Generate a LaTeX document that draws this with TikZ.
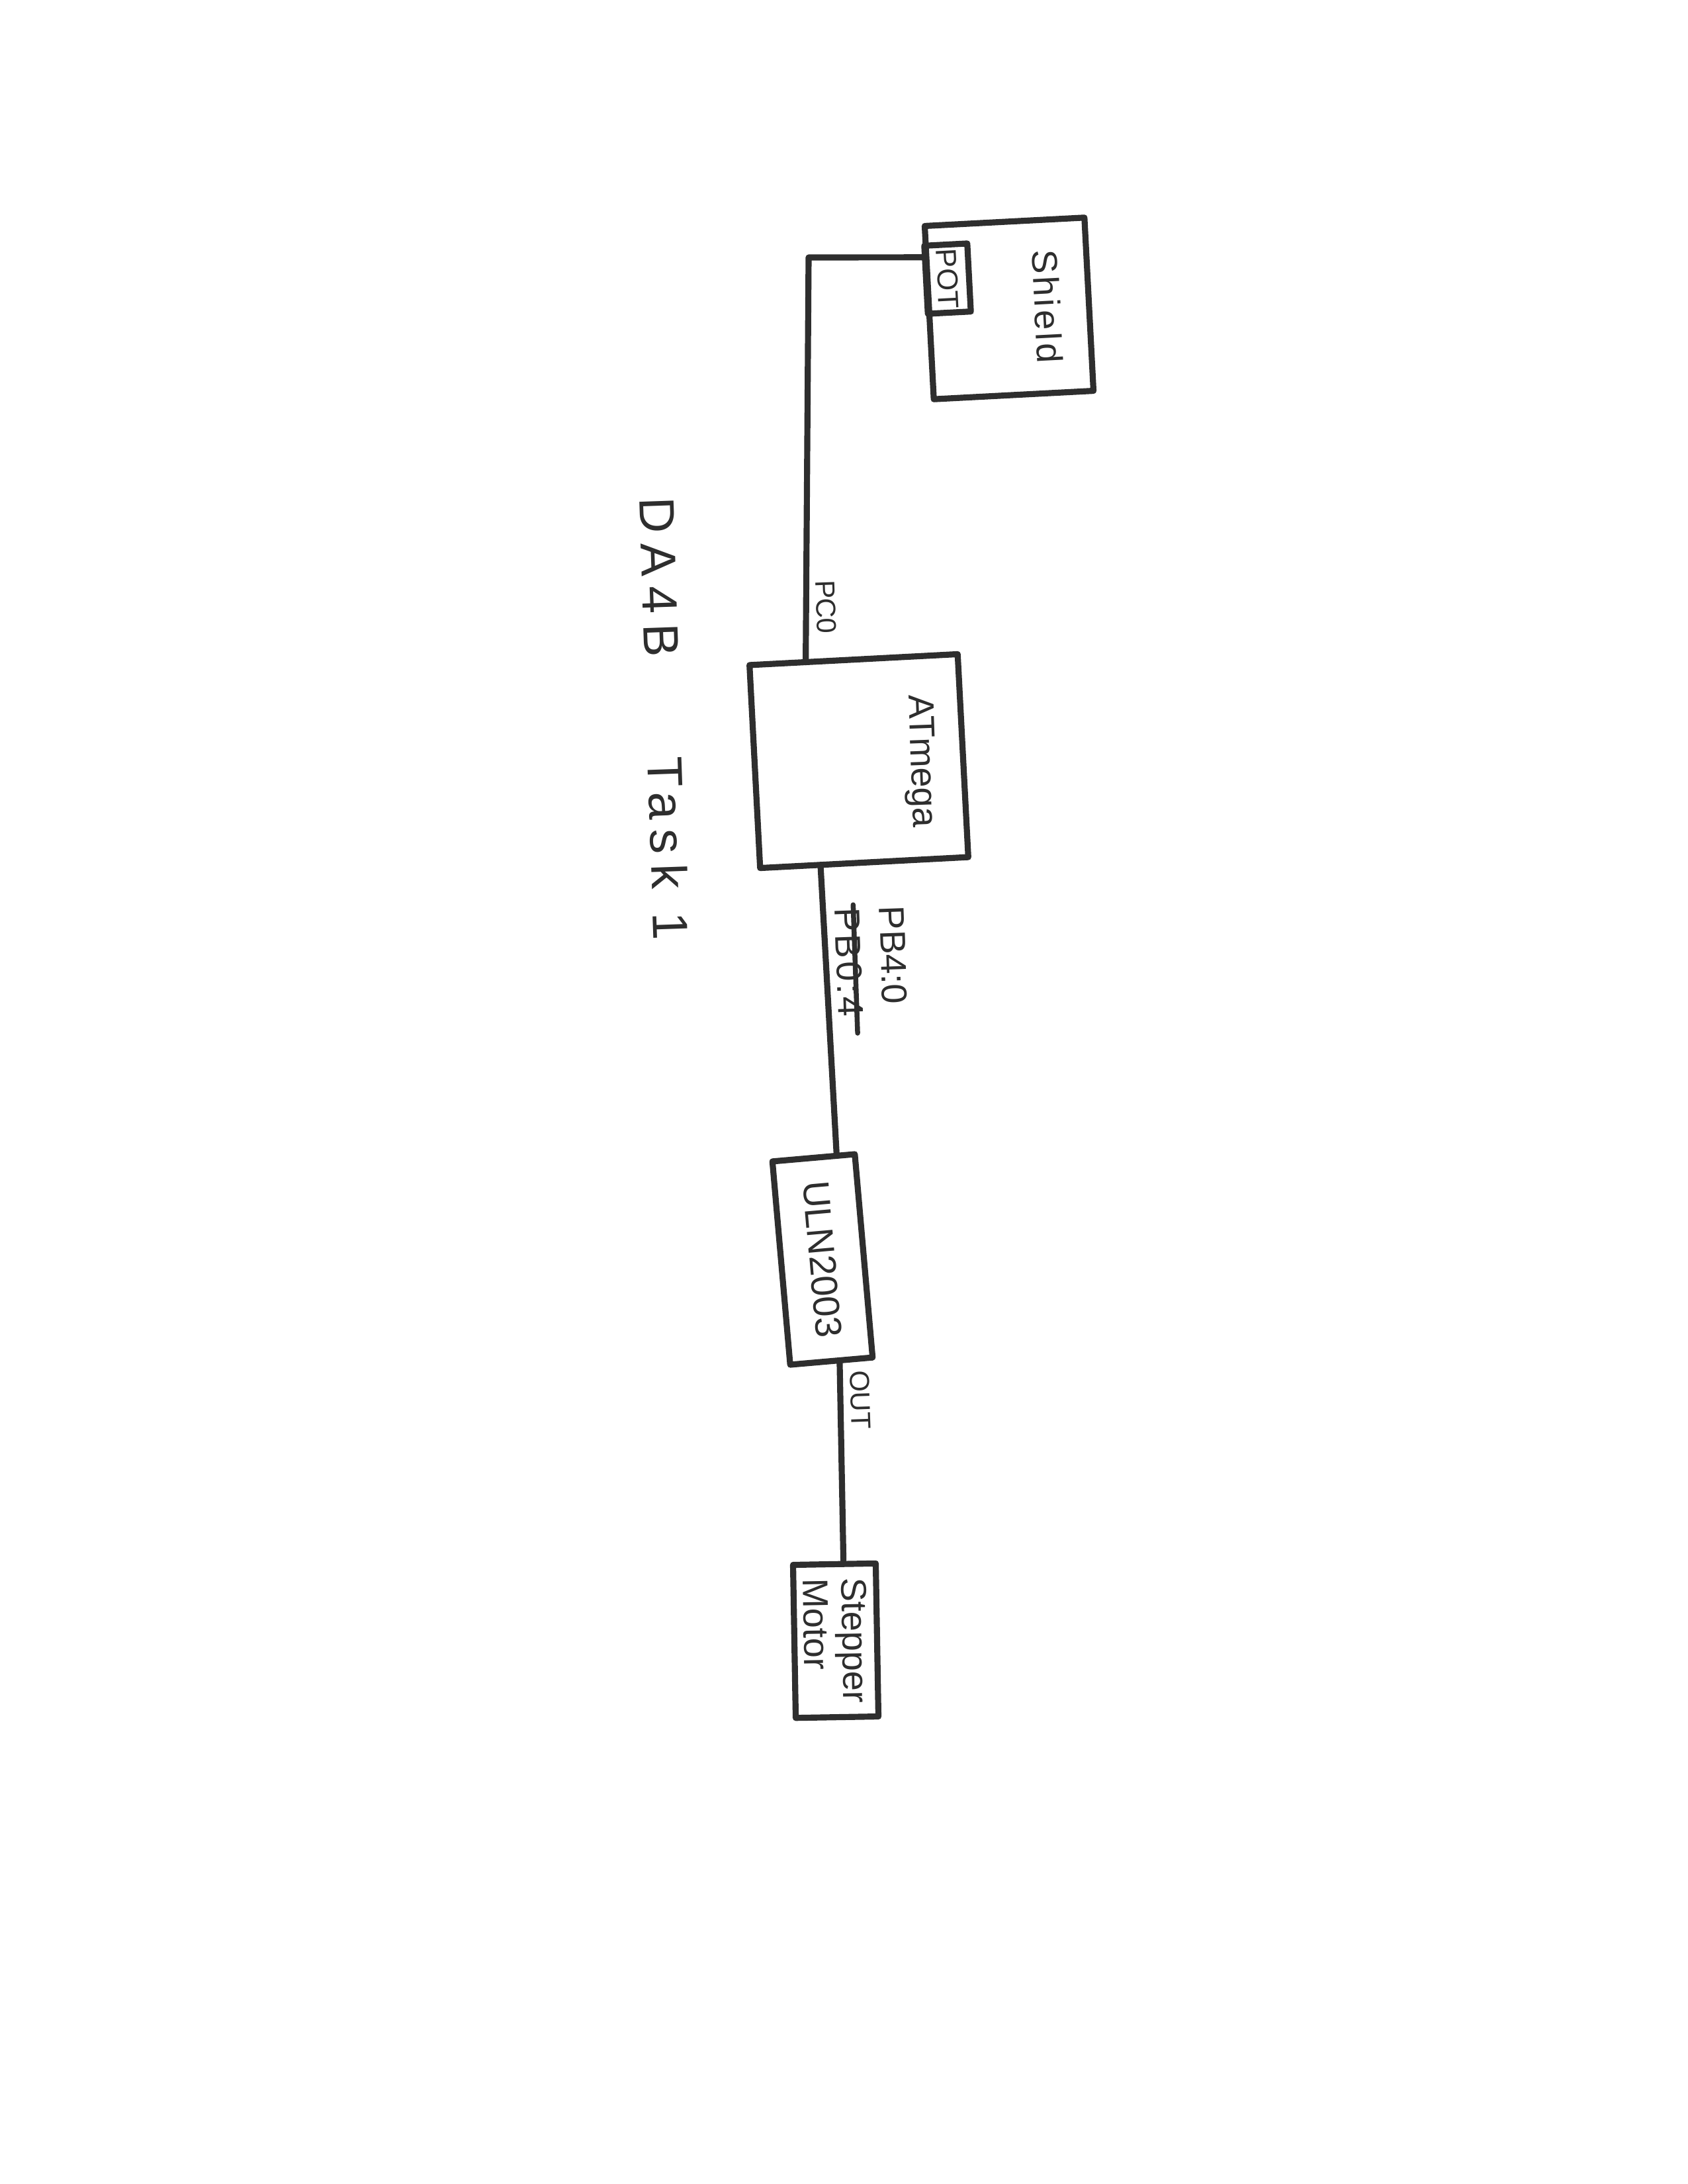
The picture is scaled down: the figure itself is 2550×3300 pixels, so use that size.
\documentclass[tikz,border=0pt]{standalone}
\usepackage{fontspec}
\setmainfont{Liberation Sans}
\newfontfamily\hand[LetterSpace=8]{Liberation Sans}
\newfontfamily\handwide[LetterSpace=20]{Liberation Sans}
\usetikzlibrary{calc}
\definecolor{inkc}{HTML}{2E2E2E}
\begin{document}
\begin{tikzpicture}[x=0.24pt,y=-0.24pt,
  ink/.style={draw=inkc, line width=2.2pt, line cap=round, line join=round},
  box/.style={ink, inner sep=0pt, outer sep=0pt},
  txt/.style={text=inkc, inner sep=1pt, outer sep=0pt},
  wire/.style={ink},
  strike/.style={draw=inkc, line width=1.8pt, line cap=round}]
\fill[white] (0,0) rectangle (2550,3300);
\useasboundingbox (0,0) rectangle (2550,3300);

% title
\node[txt, rotate=-88, font=\fontsize{18}{20}\handwide] (title) at (996,872) {DA4B};
\node[txt, rotate=-88, font=\fontsize{18}{20}\handwide] (task) at (1010,1282) {Task 1};

% Shield with POT
\node[box, rotate=-87, minimum width=62.9pt, minimum height=58pt] (shield) at (1525,466) {};
\node[txt, rotate=-87, font=\fontsize{13}{15}\hand] (shieldtxt) at (1583,463) {Shield};
\node[box, rotate=-87, minimum width=24.7pt, minimum height=15.6pt, text=inkc,
      font=\fontsize{10.5}{12}\selectfont] (pot) at (1432,421) {POT};

% ATmega
\node[box, rotate=-87, minimum width=73.7pt, minimum height=75.6pt] (atmega) at (1298,1150) {};
\node[txt, rotate=-88, font=\fontsize{13}{15}\selectfont] (atmegatxt) at (1390,1150) {ATmega};

% ULN2003
\node[box, rotate=-85, minimum width=74pt, minimum height=30pt, text=inkc,
      font=\fontsize{13.5}{15}\selectfont] (uln) at (1243,1903) {ULN2003};

% Stepper motor
\node[box, rotate=-89, minimum width=55.5pt, minimum height=30pt, text=inkc, align=left,
      font=\fontsize{13}{14}\selectfont] (stepper) at (1263,2479) {Stepper\\Motor};

% connectors
\coordinate (bend) at (1222,389);
\draw[wire] ($(pot.south west)!0.17!(pot.south east)$) -- (bend)
  -- ($(atmega.south west)!0.27!(atmega.north west)$);
\draw[wire] ($(atmega.south east)!0.29!(atmega.north east)$)
  -- ($(uln.south west)!0.78!(uln.north west)$);
\draw[wire] ($(uln.south east)!0.6!(uln.north east)$)
  -- ($(stepper.south west)!0.61!(stepper.north west)$);

% wire labels
\node[txt, rotate=-88, font=\fontsize{10}{12}\selectfont] (pc0) at (1248,917) {PC0};
\node[txt, rotate=-88, font=\fontsize{13}{15}\selectfont] (pbnew) at (1350,1443) {PB4:0};
\node[txt, rotate=-88, font=\fontsize{13}{15}\hand] (pbold) at (1283,1454) {PB0:4};
\draw[strike] ($(pbold.north west)!0.3!(pbold.south west)$)
  -- ($($(pbold.north west)!0.3!(pbold.south west)$)!1.12!($(pbold.north east)!0.3!(pbold.south east)$)$);
\node[txt, rotate=-88, font=\fontsize{10}{12}\selectfont] (out) at (1300,2115) {OUT};
\end{tikzpicture}
\end{document}
